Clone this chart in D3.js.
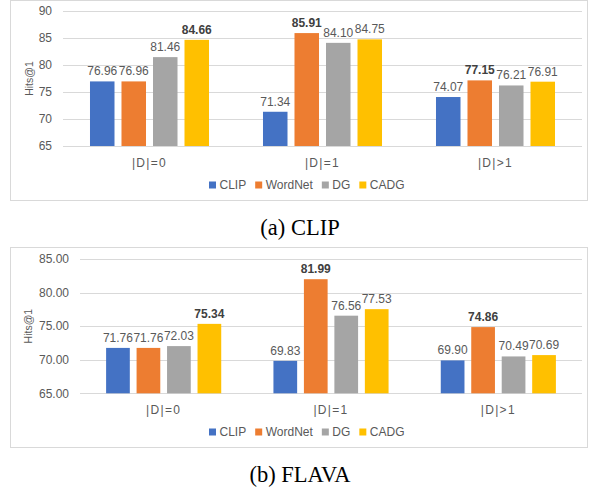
<!DOCTYPE html>
<html>
<head>
<meta charset="utf-8">
<script src="https://cdn.jsdelivr.net/npm/d3@7"></script>
<style>
  body { margin: 0; background: #fff; }
  text { font-family: "Liberation Sans", Arial, sans-serif; }
</style>
</head>
<body>
<script>
'use strict';

// categories and series
var groups = ['|D|=0', '|D|=1', '|D|>1'];
var methods = ['CLIP', 'WordNet', 'DG', 'CADG'];
var colors = ['#4472C4', '#ED7D31', '#A5A5A5', '#FFC000'];

// values per group, in method order
var clipValues = [
  [76.96, 76.96, 81.46, 84.66],
  [71.34, 85.91, 84.10, 84.75],
  [74.07, 77.15, 76.21, 76.91]
];
var flavaValues = [
  [71.76, 71.76, 72.03, 75.34],
  [69.83, 81.99, 76.56, 77.53],
  [69.90, 74.86, 70.49, 70.69]
];

// tick labels
var clipTicks = [65, 70, 75, 80, 85, 90];
var flavaTicks = [65, 70, 75, 80, 85];

var w = 592;
var h = 490;
var textColor = '#595959';
var gridColor = '#D9D9D9';

var svg = d3.select('body')
  .append('svg')
  .attr('width', w)
  .attr('height', h)
  .style('background-color', '#fff');

var drawChart = function(opts) {
  var g = svg.append('g');

  // chart frame
  g.append('rect')
    .attr('x', 10.5)
    .attr('y', opts.top + 0.5)
    .attr('width', 577)
    .attr('height', 200)
    .attr('fill', '#fff')
    .attr('stroke', gridColor);

  var y = d3.scaleLinear()
    .domain([d3.min(opts.ticks), d3.max(opts.ticks)])
    .range([opts.plotBottom, opts.plotTop]);

  var x0 = d3.scaleBand()
    .domain(groups)
    .range([opts.plotLeft, 582]);

  var inset = x0.bandwidth() * 0.156;
  var x1 = d3.scaleBand()
    .domain(methods)
    .range([inset, x0.bandwidth() - inset])
    .paddingInner(0.222);

  // gridlines + tick labels
  var axis = g.append('g')
    .attr('transform', 'translate(' + opts.plotLeft + ',0)')
    .call(d3.axisLeft(y)
      .tickValues(opts.ticks)
      .tickSize(-(582 - opts.plotLeft))
      .tickPadding(11)
      .tickFormat(opts.format));
  axis.select('.domain').remove();
  axis.selectAll('.tick line')
    .attr('stroke', gridColor)
    .attr('shape-rendering', 'crispEdges');
  axis.selectAll('.tick text')
    .attr('fill', textColor)
    .style('font-family', '"Liberation Sans", Arial, sans-serif')
    .style('font-size', '12px');

  // y axis title
  g.append('text')
    .attr('transform', 'translate(' + opts.titleX + ',' + ((opts.plotTop + opts.plotBottom) / 2) + ') rotate(-90)')
    .attr('text-anchor', 'middle')
    .attr('fill', textColor)
    .style('font-size', '10.5px')
    .text('Hits@1');

  var groupG = g.selectAll('.group')
    .data(opts.values)
    .enter()
    .append('g')
    .attr('class', 'group')
    .attr('transform', function(d, i) {
      return 'translate(' + x0(groups[i]) + ',0)';
    });

  groupG.selectAll('rect')
    .data(function(d) { return d; })
    .enter()
    .append('rect')
    .attr('x', function(d, i) { return x1(methods[i]); })
    .attr('y', function(d) { return y(d); })
    .attr('width', x1.bandwidth())
    .attr('height', function(d) { return y.range()[0] - y(d); })
    .attr('fill', function(d, i) { return colors[i]; });

  // value labels, best of each group in bold
  groupG.selectAll('.num')
    .data(function(d) {
      var best = d3.max(d);
      return d.map(function(v) { return {v: v, best: v === best}; });
    })
    .enter()
    .append('text')
    .attr('class', 'num')
    .attr('x', function(d, i) { return x1(methods[i]) + x1.bandwidth() / 2; })
    .attr('y', function(d) { return y(d.v) - 6; })
    .attr('text-anchor', 'middle')
    .attr('fill', function(d) { return d.best ? '#404040' : textColor; })
    .style('font-size', '12px')
    .style('font-weight', function(d) { return d.best ? 'bold' : 'normal'; })
    .text(function(d) { return d.v.toFixed(2); });

  // category labels
  g.selectAll('.cat')
    .data(groups)
    .enter()
    .append('text')
    .attr('class', 'cat')
    .attr('x', function(d) { return x0(d) + x0.bandwidth() / 2; })
    .attr('y', opts.plotBottom + 21)
    .attr('text-anchor', 'middle')
    .attr('fill', textColor)
    .style('font-size', '12px')
    .style('letter-spacing', '1.3px')
    .text(function(d) { return d; });

  // legend, laid out left to right
  var lx = 209;
  methods.forEach(function(m, i) {
    g.append('rect')
      .attr('x', lx)
      .attr('y', opts.legendY - 7)
      .attr('width', 7)
      .attr('height', 7)
      .attr('fill', colors[i]);
    var t = g.append('text')
      .attr('x', lx + 10.5)
      .attr('y', opts.legendY)
      .attr('fill', textColor)
      .style('font-size', '12px')
      .text(m);
    lx += 10.5 + t.node().getComputedTextLength() + 9;
  });

  // caption under the frame
  svg.append('text')
    .attr('x', 300)
    .attr('y', opts.captionY)
    .attr('text-anchor', 'middle')
    .attr('fill', '#000')
    .style('font-family', '"Liberation Serif", "Times New Roman", serif')
    .style('font-size', '22.5px')
    .text(opts.caption);
};

drawChart({
  top: 0,
  values: clipValues,
  ticks: clipTicks,
  format: d3.format('d'),
  plotLeft: 63,
  plotTop: 11,
  plotBottom: 146,
  titleX: 33,
  legendY: 188.5,
  captionY: 235,
  caption: '(a) CLIP'
});

drawChart({
  top: 247,
  values: flavaValues,
  ticks: flavaTicks,
  format: d3.format('.2f'),
  plotLeft: 80,
  plotTop: 259,
  plotBottom: 393.3,
  titleX: 32,
  legendY: 435.5,
  captionY: 482,
  caption: '(b) FLAVA'
});
</script>
</body>
</html>
